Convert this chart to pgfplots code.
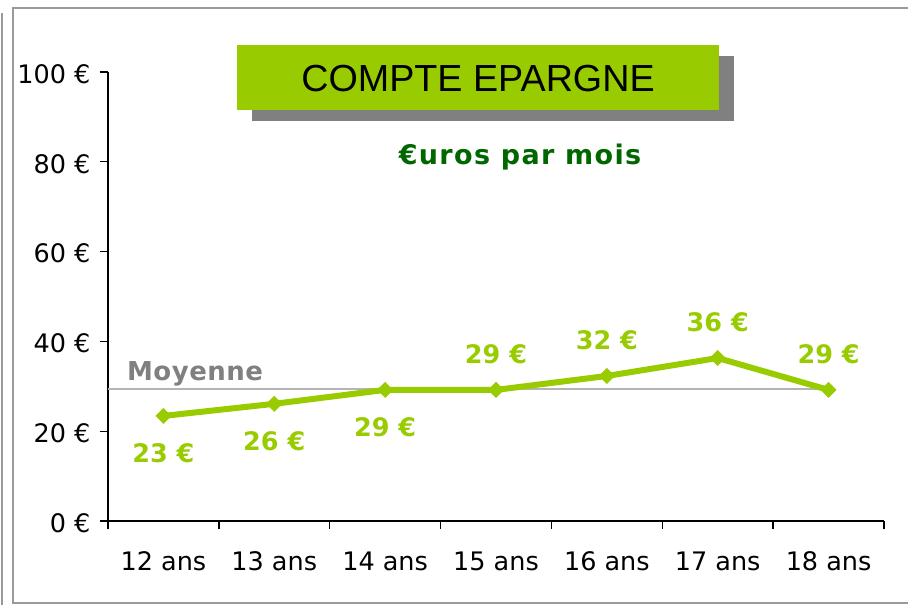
\documentclass[border=0pt]{standalone}
\usepackage{pgfplots}
\pgfplotsset{compat=1.18}
\usepackage{pgfplotstable}
\usepackage{fontspec}
\setmainfont{DejaVu Sans}
\newfontfamily\titlefont{Liberation Sans}
\newfontfamily\subfont[LetterSpace=5]{DejaVu Sans}
\newfontfamily\moyfont[LetterSpace=2]{DejaVu Sans}
\definecolor{lime}{HTML}{99CC00}
\definecolor{dkgreen}{HTML}{006600}
\definecolor{shadowgray}{HTML}{808080}
\definecolor{meanline}{HTML}{B4B4B4}
\definecolor{framegray}{HTML}{9A9A9A}

\pgfplotstableread{
x y
0 23.4
1 26.1
2 29.2
3 29.2
4 32.3
5 36.3
6 29.2
}\series
\pgfplotstableread{
x y lab
0 23.4 23
1 26.1 26
2 29.2 29
}\below
\pgfplotstableread{
x y lab
3 29.2 29
4 32.3 32
5 36.3 36
6 29.2 29
}\above

\begin{document}
\begin{tikzpicture}[x=1pt,y=1pt]
\path[use as bounding box] (0,0) rectangle (908,605);
\draw[framegray, line width=1.5pt] (2,0) -- (2,592);
\draw[framegray, line width=2pt] (912,2) -- (13,2) -- (13,597) -- (912,597);
\begin{axis}[
  at={(108pt,84pt)}, anchor=south west,
  scale only axis, width=776pt, height=449pt,
  xmin=-0.5, xmax=6.5, ymin=0, ymax=100,
  axis x line=bottom, axis y line=left,
  axis line style={-, line width=1.3pt, black},
  tick align=outside, major tick length=8pt, minor tick length=8pt,
  tick style={black, line width=1.3pt},
  xtick={0,...,6},
  xticklabels={12 ans,13 ans,14 ans,15 ans,16 ans,17 ans,18 ans},
  major x tick style={draw=none},
  minor xtick={-0.5,0.5,...,6.5},
  ytick={0,20,...,100},
  yticklabels={0 €,20 €,40 €,60 €,80 €,100 €},
  ticklabel style={font=\fontsize{25.5}{30}\selectfont, text=black},
  xticklabel style={yshift=-19pt},
  yticklabel style={xshift=-6pt, yshift=-2pt},
  clip=false,
]
\addplot[meanline, line width=1.5pt, forget plot] coordinates {(-0.5,29.4) (6.06,29.4)};
\addplot[lime, line width=6pt, mark=square*, mark size=5.4pt, mark options={rotate=45, line width=0.5pt}] table {\series};
\addplot[draw=none, point meta=explicit symbolic,
  nodes near coords={\pgfplotspointmeta~€},
  nodes near coords style={anchor=center, yshift=-37pt, text=lime, font=\bfseries\fontsize{25.5}{30}\selectfont}]
  table[meta=lab] {\below};
\addplot[draw=none, point meta=explicit symbolic,
  nodes near coords={\pgfplotspointmeta~€},
  nodes near coords style={anchor=center, yshift=36pt, text=lime, font=\bfseries\fontsize{25.5}{30}\selectfont}]
  table[meta=lab] {\above};
\node[anchor=base west, inner sep=0pt, text=shadowgray, font={\moyfont\bfseries\fontsize{26}{30}\selectfont}] at (axis cs:-0.33,31.25) {Moyenne};
\end{axis}
\fill[shadowgray] (252,484) rectangle (734,549);
\fill[lime] (237,495) rectangle (719,560);
\node[font={\titlefont\fontsize{37.7}{45}\selectfont}] at (478,526.5) {COMPTE EPARGNE};
\node[anchor=base, text=dkgreen, font={\subfont\bfseries\fontsize{27}{32}\selectfont}] at (520,440) {€uros par mois};
\end{tikzpicture}
\end{document}
